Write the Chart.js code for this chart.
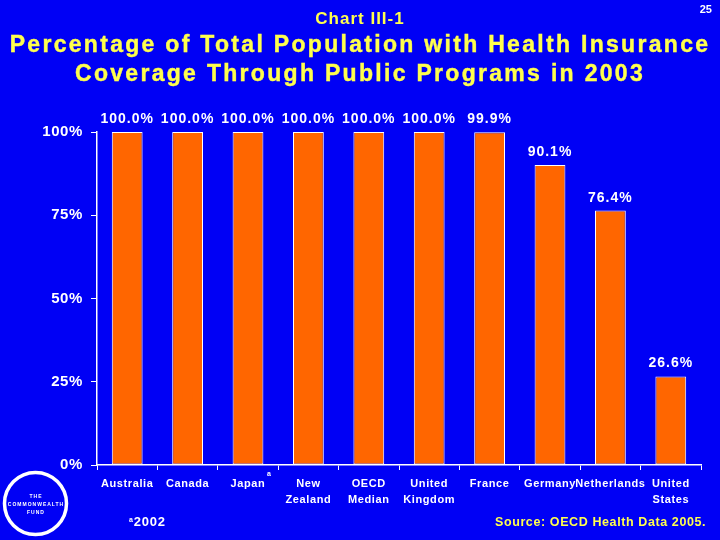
<!DOCTYPE html>
<html>
<head>
<meta charset="utf-8">
<script src="https://cdn.jsdelivr.net/npm/chart.js@4/dist/chart.umd.min.js"></script>
<style>
  html, body { margin: 0; padding: 0; background: #0000f5; }
  #wrap { position: relative; width: 720px; height: 540px; overflow: hidden; font-family: "Liberation Sans", Arial, sans-serif; }
  #wrap canvas { position: absolute; left: 0; top: 0; }
  .txt { position: absolute; white-space: nowrap; font-weight: bold; }
</style>
</head>
<body>
<div id="wrap">
  <canvas id="coverageChart" width="720" height="540"></canvas>
  <div class="txt" style="left:0;width:720px;top:9px;text-align:center;color:#ffff4d;font-size:17px;letter-spacing:1px;font-family:'Liberation Sans Narrow','Liberation Sans',sans-serif;">Chart III-1</div>
  <div class="txt" style="right:8px;top:3px;color:#fff;font-size:11px;">25</div>
  <div class="txt" style="left:0;width:720px;top:30px;text-align:center;color:#ffff4d;font-size:23px;letter-spacing:2.3px;line-height:29px;-webkit-text-stroke:0.4px #ffff4d;">Percentage of Total Population with Health Insurance<br>Coverage Through Public Programs in 2003</div>
  <div class="txt" style="left:129px;top:514px;color:#fff;font-size:13px;letter-spacing:0.8px;"><span style="font-size:7px;vertical-align:4px;">a</span>2002</div>
  <div class="txt" style="left:495px;top:515px;color:#ffff4d;font-size:12.5px;letter-spacing:0.6px;">Source: OECD Health Data 2005.</div>
</div>
<script>
// data
const countries = [
  "Australia", "Canada", "Japan", ["New", "Zealand"], ["OECD", "Median"],
  ["United", "Kingdom"], "France", "Germany", "Netherlands", ["United", "States"]
];
const publicCoverage = [100, 100, 100, 100, 100, 100, 99.9, 90.1, 76.4, 26.6];
const yTicks = [0, 25, 50, 75, 100];

const canvas = document.getElementById("coverageChart");

// the slide's lettering is a little wider than plain Arial
const widerText = {
  id: "widerText",
  beforeDraw(chart) { chart.ctx.letterSpacing = "0.6px"; }
};

const barLabels = {
  id: "barLabels",
  afterDatasetsDraw(chart) {
    const c = chart.ctx;
    const meta = chart.getDatasetMeta(0);
    c.save();
    c.fillStyle = "#fff";
    c.letterSpacing = "1px";
    c.font = "bold 14px 'Liberation Sans', Arial, sans-serif";
    c.textAlign = "center";
    c.textBaseline = "alphabetic";
    meta.data.forEach((bar, i) => {
      c.fillText(publicCoverage[i].toFixed(1) + "%", bar.x, bar.y - 9);
    });
    // superscript "a" on Japan
    const xs = chart.scales.x;
    c.letterSpacing = "0px";
    c.font = "bold 7px 'Liberation Sans', Arial, sans-serif";
    c.fillText("a", xs.getPixelForValue(2) + 21, 476);
    // logo
    c.strokeStyle = "#fff";
    c.lineWidth = 3.5;
    c.beginPath();
    c.arc(35.5, 503.5, 31, 0, Math.PI * 2);
    c.stroke();
    c.letterSpacing = "1px";
    c.font = "bold 5px 'Liberation Sans', Arial, sans-serif";
    c.fillText("THE", 36, 498);
    c.fillText("COMMONWEALTH", 36, 506);
    c.fillText("FUND", 36, 514);
    c.restore();
  }
};

new Chart(canvas, {
  type: "bar",
  data: {
    labels: countries,
    datasets: [{
      data: publicCoverage,
      backgroundColor: "#ff6600",
      borderColor: "#ffffff",
      borderWidth: 1,
      borderSkipped: false,
      categoryPercentage: 1,
      barPercentage: 0.51
    }]
  },
  options: {
    responsive: false,
    animation: false,
    layout: { padding: { top: 132, right: 19, left: 0, bottom: 0 } },
    plugins: { legend: { display: false }, tooltip: { enabled: false } },
    scales: {
      x: {
        grid: { display: true, drawOnChartArea: false, color: "#fff", tickLength: 5, offset: true },
        border: { color: "#fff", width: 1.5 },
        ticks: {
          color: "#fff", padding: 6, maxRotation: 0, autoSkip: false,
          font: { family: "'Liberation Sans', Arial, sans-serif", weight: "bold", size: 11, lineHeight: 1.45 }
        },
        afterFit(scale) { scale.height = 75; }
      },
      y: {
        min: 0, max: 100,
        afterBuildTicks(scale) { scale.ticks = yTicks.map(v => ({ value: v })); },
        grid: { display: true, drawOnChartArea: false, color: "#fff", tickLength: 6 },
        border: { color: "#fff", width: 1.5 },
        ticks: {
          color: "#fff", padding: 8,
          callback: v => v + "%",
          font: { family: "'Liberation Sans', Arial, sans-serif", weight: "bold", size: 15 }
        },
        afterFit(scale) { scale.width = 97; }
      }
    }
  },
  plugins: [widerText, barLabels]
});
</script>
</body>
</html>
